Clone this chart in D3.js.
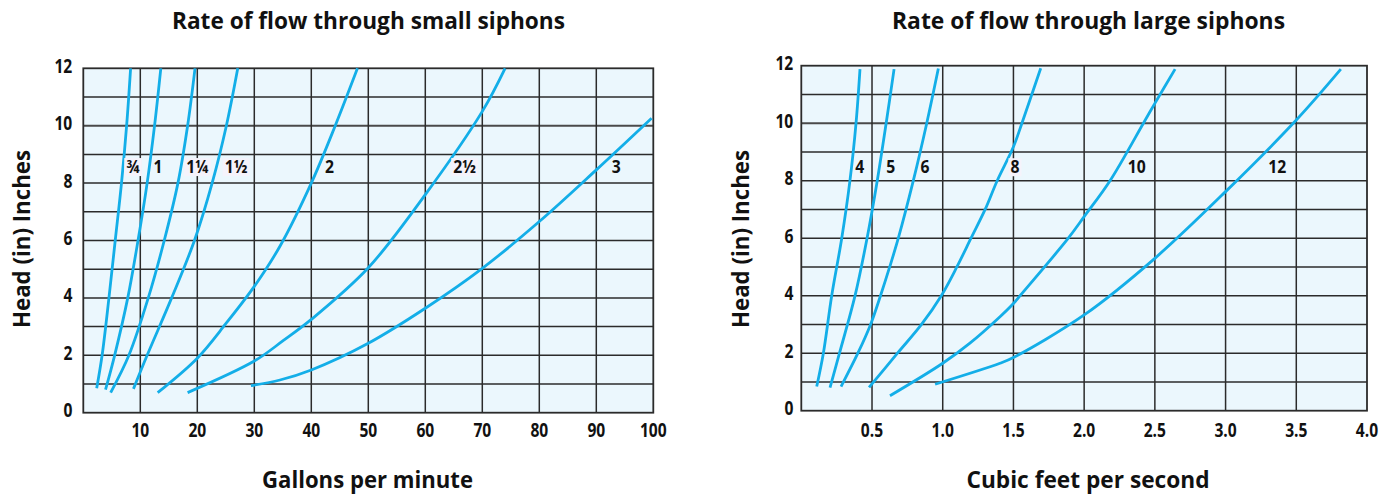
<!DOCTYPE html>
<html>
<head>
<meta charset="utf-8">
<script src="https://cdn.jsdelivr.net/npm/d3@7"></script>
<style>
  html, body { margin: 0; padding: 0; background: #ffffff; }
  svg { display: block; }
  text { font-family: "Open Sans", "Noto Sans", sans-serif; font-weight: 700; fill: #111; }
</style>
</head>
<body>
<svg id="chart" width="1398" height="498"></svg>
<script>
// ---------------- DATA ----------------
const smallTitle = "Rate of flow through small siphons";
const largeTitle = "Rate of flow through large siphons";
const smallXLabel = "Gallons per minute";
const largeXLabel = "Cubic feet per second";
const yLabel = "Head (in) Inches";

const smallXTicks = [10, 20, 30, 40, 50, 60, 70, 80, 90, 100];
const largeXTicks = [0.5, 1.0, 1.5, 2.0, 2.5, 3.0, 3.5, 4.0];
const yTicks = [0, 2, 4, 6, 8, 10, 12];

// small siphons: siphon size (inches), flow (gpm) and head (in)
const smallSizes = ["¾", "1", "1¼", "1½", "2", "2½", "3"];
const smallGpm = [
  [2.35, 3.3, 4.5, 5.6, 6.7, 7.6, 8.3],
  [3.9, 5.5, 7.8, 9.6, 11.2, 12.5, 13.6],
  [4.8, 8.0, 11.4, 14.2, 16.6, 18.3, 19.6],
  [8.8, 11.2, 15.5, 19.5, 22.6, 25.1, 27.1],
  [13.05, 20, 25, 30, 34.5, 40, 44.2, 48.1],
  [18.3, 30, 35, 40, 50, 60, 70, 74],
  [29.4, 34.5, 40, 50, 60, 70, 80, 90, 99.7]
];
const smallHead = [
  [0.85, 2, 4, 6, 8, 10, 12],
  [0.8, 2, 4, 6, 8, 10, 12],
  [0.7, 2, 4, 6, 8, 10, 12],
  [0.83, 2, 4, 6, 8, 10, 12],
  [0.7, 1.9, 3.1, 4.4, 5.8, 8.0, 10, 12],
  [0.7, 1.8, 2.5, 3.25, 5.05, 7.6, 10.5, 12],
  [0.94, 1.14, 1.49, 2.42, 3.64, 5.03, 6.66, 8.46, 10.26]
];
const smallLabelGpm = [8.7, 13.1, 20.0, 26.8, 43.2, 66.9, 93.5];
const smallLabelHead = 8.35;

// large siphons: siphon size (inches), flow (cfs) and head (in)
const largeSizes = ["4", "5", "6", "8", "10", "12"];
const largeCfs = [
  [0.109, 0.156, 0.215, 0.286, 0.344, 0.387, 0.415],
  [0.203, 0.27, 0.38, 0.465, 0.537, 0.60, 0.656],
  [0.281, 0.40, 0.49, 0.56, 0.625, 0.686, 0.792, 0.887, 0.969],
  [0.479, 0.68, 0.85, 0.99, 1.10, 1.20, 1.30, 1.385, 1.5, 1.56, 1.693],
  [0.627, 1.0, 1.19, 1.405, 1.5, 1.547, 1.888, 2.0, 2.183, 2.419, 2.5, 2.643],
  [0.946, 1.405, 1.5, 2.0, 2.5, 3.0, 3.5, 3.815]
];
const largeHead = [
  [0.84, 2, 4, 6, 8, 10, 11.88],
  [0.8, 2, 4, 6, 8, 10, 11.88],
  [0.84, 2, 3, 4, 5, 6, 8, 10, 11.9],
  [0.81, 2, 3, 4, 5, 6, 7, 8, 9.18, 10, 11.91],
  [0.52, 1.65, 2.34, 3.27, 3.73, 4, 6, 6.75, 8, 10, 10.69, 11.88],
  [0.92, 1.65, 1.85, 3.33, 5.3, 7.62, 10.11, 11.88]
];
const largeLabelCfs = [0.414, 0.632, 0.875, 1.511, 2.372, 3.366];
const largeLabelHead = 8.26;

// labels that carry a faint backing box in the original
const boxedLabels = ["¾", "1¼", "1½", "2½", "8"];

// ---------------- STYLE ----------------
const curveColor = "#13aee8";
const plotBg = "#ebf7fd";
const gridColor = "#2b2b2b";

const svg = d3.select("#chart");

function squeeze(sel, factor) {
  const w = sel.node().getComputedTextLength();
  sel.attr("textLength", w * factor).attr("lengthAdjust", "spacingAndGlyphs");
  return sel;
}
function fitWidth(sel, width) {
  sel.attr("textLength", width).attr("lengthAdjust", "spacingAndGlyphs");
  return sel;
}

function drawPanel(cfg) {
  const g = svg.append("g");
  const x = d3.scaleLinear().domain(cfg.xDomain).range([cfg.left, cfg.right]);
  const y = d3.scaleLinear().domain([0, 12]).range([cfg.bottom, cfg.top]);

  // background
  g.append("rect")
    .attr("x", cfg.left).attr("y", cfg.top)
    .attr("width", cfg.right - cfg.left).attr("height", cfg.bottom - cfg.top)
    .attr("fill", plotBg);

  // horizontal grid (every 1 inch of head)
  const hLines = d3.range(1, 12);
  g.selectAll(".hg").data(hLines).enter().append("line")
    .attr("x1", cfg.left).attr("x2", cfg.right)
    .attr("y1", d => y(d)).attr("y2", d => y(d))
    .attr("stroke", d => d === 10 ? "#4a4a4a" : gridColor)
    .attr("stroke-width", d => d === 10 ? 2 : 1.5);

  // vertical grid at ticks
  g.selectAll(".vg").data(cfg.xTicks.slice(0, -1)).enter().append("line")
    .attr("x1", d => x(d)).attr("x2", d => x(d))
    .attr("y1", cfg.top).attr("y2", cfg.bottom)
    .attr("stroke", gridColor).attr("stroke-width", 1.5);

  // border
  g.append("rect")
    .attr("x", cfg.left).attr("y", cfg.top)
    .attr("width", cfg.right - cfg.left).attr("height", cfg.bottom - cfg.top)
    .attr("fill", "none").attr("stroke", gridColor).attr("stroke-width", 1.8);

  // curves
  const line = d3.line()
    .x(d => x(d[0])).y(d => y(d[1]))
    .curve(d3.curveCatmullRom.alpha(0.5));
  cfg.flows.forEach((arr, i) => {
    const pts = arr.map((v, j) => [v, cfg.heads[i][j]]);
    g.append("path").datum(pts)
      .attr("d", line)
      .attr("fill", "none")
      .attr("stroke", curveColor)
      .attr("stroke-width", 2.8)
      .attr("stroke-linecap", "butt");
  });

  // curve labels
  cfg.sizes.forEach((s, i) => {
    const t = g.append("text")
      .attr("x", x(cfg.labelX[i]))
      .attr("y", y(cfg.labelY))
      .attr("text-anchor", "middle")
      .attr("font-size", 18.5)
      .text(s);
    squeeze(t, 0.85);
    if (boxedLabels.includes(s)) {
      const bb = t.node().getBBox();
      g.insert("rect", function () { return t.node(); })
        .attr("x", bb.x - 2).attr("y", y(cfg.labelY) - 15)
        .attr("width", bb.width + 4).attr("height", 18)
        .attr("fill", "#f5f3fb");
    }
  });

  // y tick labels
  yTicks.forEach(v => {
    const t = g.append("text")
      .attr("x", cfg.left - cfg.yLabelGap)
      .attr("y", y(v) + 4.5)
      .attr("text-anchor", "end")
      .attr("font-size", 19.5)
      .text(v);
    squeeze(t, 0.8);
  });

  // x tick labels
  cfg.xTicks.forEach(v => {
    const t = g.append("text")
      .attr("x", x(v))
      .attr("y", 436.5)
      .attr("text-anchor", "middle")
      .attr("font-size", 19.5)
      .text(cfg.xFormat(v));
    squeeze(t, 0.8);
  });

  // title
  const tt = g.append("text")
    .attr("x", cfg.titleX).attr("y", 29)
    .attr("text-anchor", "middle")
    .attr("font-size", 23)
    .text(cfg.title);
  fitWidth(tt, 393);

  // x axis title
  const xt = g.append("text")
    .attr("x", cfg.xTitleX).attr("y", 488)
    .attr("text-anchor", "middle")
    .attr("font-size", 23)
    .text(cfg.xTitle);
  fitWidth(xt, cfg.xTitleW);

  // y axis title
  const yt = g.append("text")
    .attr("transform", `translate(${cfg.yTitleX},239) rotate(-90)`)
    .attr("text-anchor", "middle")
    .attr("font-size", 24)
    .text(yLabel);
  fitWidth(yt, 178);
}

drawPanel({
  xDomain: [0, 100], left: 83.3, right: 653.3, top: 68.3, bottom: 412.7,
  xTicks: smallXTicks, xFormat: d => String(d),
  flows: smallGpm, heads: smallHead, sizes: smallSizes,
  labelX: smallLabelGpm, labelY: smallLabelHead,
  title: smallTitle, titleX: 368.5,
  xTitle: smallXLabel, xTitleX: 367.5, xTitleW: 211,
  yTitleX: 30, yLabelGap: 11
});

drawPanel({
  xDomain: [0, 4], left: 801.3, right: 1367, top: 65.7, bottom: 410.7,
  xTicks: largeXTicks, xFormat: d => d.toFixed(1),
  flows: largeCfs, heads: largeHead, sizes: largeSizes,
  labelX: largeLabelCfs, labelY: largeLabelHead,
  title: largeTitle, titleX: 1088.5,
  xTitle: largeXLabel, xTitleX: 1088, xTitleW: 243,
  yTitleX: 749, yLabelGap: 8
});
</script>
</body>
</html>
